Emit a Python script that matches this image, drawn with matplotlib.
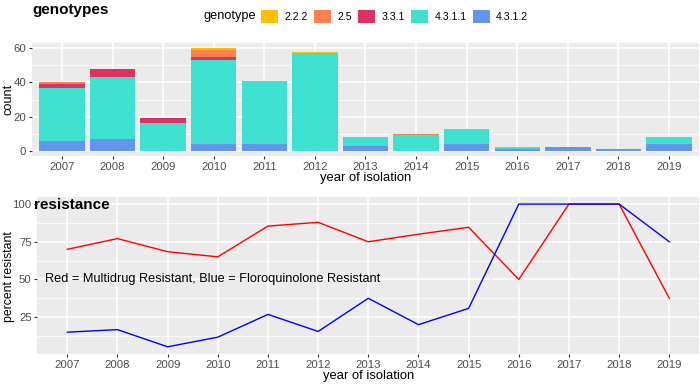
import numpy as np
import matplotlib.pyplot as plt
from matplotlib.patches import Patch

plt.rcParams['font.family'] = ['Liberation Sans', 'DejaVu Sans']

# data
years = [2007, 2008, 2009, 2010, 2011, 2012, 2013, 2014, 2015, 2016, 2017, 2018, 2019]
genotypes = ["2.2.2", "2.5", "3.3.1", "4.3.1.1", "4.3.1.2"]
colors = ["#FFBF00", "#FF7F50", "#DE3163", "#40E0D0", "#6495ED"]

# counts per genotype per year
g_4312 = [6, 7, 0, 4, 4, 0, 3, 0, 4, 1, 2, 1, 4]
g_4311 = [31, 36, 16, 49, 37, 57, 5, 9, 9, 1, 0, 0, 4]
g_331 = [2, 5, 3, 2, 0, 0, 0, 0, 0, 0, 0, 0, 0]
g_25 = [1, 0, 0, 4, 0, 0, 0, 1, 0, 0, 0, 0, 0]
g_222 = [0, 0, 0, 1, 0, 1, 0, 0, 0, 0, 0, 0, 0]

# percent resistant
mdr = [70.0, 77.1, 68.4, 65.0, 85.4, 87.9, 75.0, 80.0, 84.6, 50.0, 100.0, 100.0, 37.5]
fq = [15.0, 16.7, 5.3, 11.7, 26.8, 15.5, 37.5, 20.0, 30.8, 100.0, 100.0, 100.0, 75.0]

W, H = 700, 385
bg = "#EBEBEB"
tick_col = "#4D4D4D"


def style_axes(ax):
    ax.set_facecolor(bg)
    for s in ax.spines.values():
        s.set_visible(False)
    ax.tick_params(axis="both", colors="#333333", labelcolor=tick_col,
                   labelsize=8.2, length=2.5, width=0.8, pad=1.5)
    ax.set_axisbelow(True)


fig = plt.figure(figsize=(W / 100, H / 100), dpi=100)

# ---- top: genotypes stacked bars
ax1 = fig.add_axes([31.6 / W, 1 - 156 / H, (699.4 - 31.6) / W, (156 - 43) / H])
style_axes(ax1)
x = np.arange(len(years))
stack = [("4.3.1.2", g_4312), ("4.3.1.1", g_4311), ("3.3.1", g_331),
         ("2.5", g_25), ("2.2.2", g_222)]
bottom = np.zeros(len(years))
for name, vals in stack:
    ax1.bar(x, vals, width=0.9, bottom=bottom,
            color=colors[genotypes.index(name)], linewidth=0)
    bottom += np.array(vals)
ax1.set_xlim(-0.6, len(years) - 0.4)
ax1.set_ylim(-3, 63)
ax1.set_yticks([0, 20, 40, 60])
ax1.set_yticks([10, 30, 50], minor=True)
ax1.tick_params(axis="y", which="minor", length=0)
ax1.set_xticks(x)
ax1.set_xticklabels([str(y) for y in years])
ax1.grid(True, which="major", color="white", linewidth=1.1)
ax1.grid(True, which="minor", axis="y", color="white", linewidth=0.55)
ax1.set_xlabel("year of isolation", fontsize=9.4, labelpad=0)
ax1.set_ylabel("count", fontsize=9.2, va="center")
ax1.yaxis.set_label_coords((8 - 31.6) / (699.4 - 31.6), 0.5)

fig.text(32 / W, 1 - 10 / H, "genotypes", fontsize=11, fontweight="bold",
         va="center", ha="left")

# legend
fig.text(204 / W, 1 - 16.5 / H, "genotype", fontsize=9.2, va="center", ha="left")
handles = [Patch(facecolor=c, edgecolor="none") for c in colors]
fig.legend(handles, genotypes, loc="center left", bbox_to_anchor=(261 / W, 1 - 16.5 / H),
           ncol=5, frameon=False, fontsize=7.6, handlelength=1.6, handleheight=1.6,
           handletextpad=0.6, columnspacing=0.6, borderaxespad=0, borderpad=0)

# ---- bottom: resistance lines
ax2 = fig.add_axes([37.2 / W, 1 - 354 / H, (699.4 - 37.2) / W, (354 - 197) / H])
style_axes(ax2)
ax2.plot(years, mdr, color="red", linewidth=1.0)
ax2.plot(years, fq, color="blue", linewidth=1.0)
ax2.set_xlim(2006.4, 2019.6)
ax2.set_ylim(0.53, 104.7)
ax2.set_yticks([25, 50, 75, 100])
ax2.set_yticks([12.5, 37.5, 62.5, 87.5], minor=True)
ax2.tick_params(axis="y", which="minor", length=0)
ax2.set_xticks(years)
ax2.set_xticklabels([str(y) for y in years])
ax2.grid(True, which="major", color="white", linewidth=1.1)
ax2.grid(True, which="minor", axis="y", color="white", linewidth=0.55)
ax2.set_xlabel("year of isolation", fontsize=9.4, labelpad=0)
ax2.set_ylabel("percent resistant", fontsize=8.8, va="center")
ax2.yaxis.set_label_coords((9 - 37.2) / (699.4 - 37.2), 0.49)
ax2.text(2006.56, 50, "Red = Multidrug Resistant, Blue = Floroquinolone Resistant",
         fontsize=9.2, va="center", ha="left")

fig.text(34 / W, 1 - 205 / H, "resistance", fontsize=11, fontweight="bold",
         va="center", ha="left")

fig.savefig("out.png", dpi=100)
